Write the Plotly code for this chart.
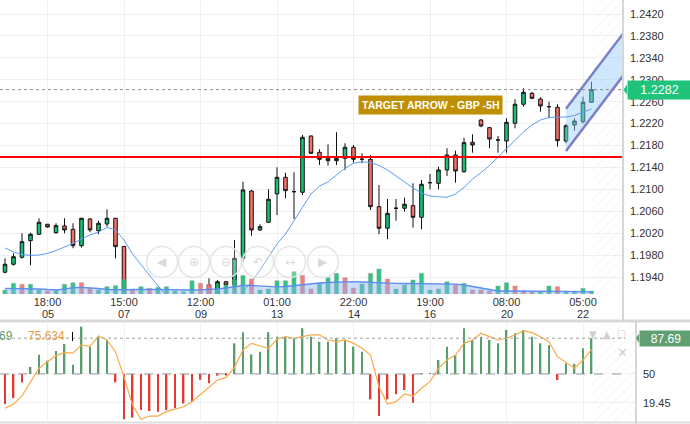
import plotly.graph_objects as go

# ---------------- data ----------------
idx = list(range(70))
opens = [1.19487, 1.19633, 1.19760, 1.20063, 1.20180, 1.20363, 1.20209, 1.20332, 1.20271, 1.19972,
         1.20459, 1.20246, 1.20368, 1.20472, 1.19957, 1.18653, 1.18507, 1.18616, 1.18543, 1.18653,
         1.18580, 1.18726, 1.18835, 1.18981, 1.19255, 1.18981, 1.19315, 1.19255, 1.19742, 1.20970,
         1.20259, 1.20399, 1.20916, 1.21220, 1.20958, 1.20947, 1.21974, 1.21676, 1.21567, 1.21523,
         1.21567, 1.21768, 1.21549, 1.21549, 1.20684, 1.20290, 1.20655, 1.20655, 1.20702, 1.20490,
         1.21122, 1.21111, 1.21354, 1.21627, 1.21322, 1.21859, 1.22266, 1.22126, 1.21901, 1.21883,
         1.22206, 1.22553, 1.22753, 1.22649, 1.22509, 1.22498, 1.21883, 1.22175, 1.22235, 1.22589]
highs = [1.19742, 1.19833, 1.20198, 1.20209, 1.20472, 1.20368, 1.20381, 1.20472, 1.20381, 1.20478,
         1.20472, 1.20428, 1.20636, 1.20478, 1.19967, 1.18762, 1.18726, 1.18708, 1.18762, 1.18799,
         1.18835, 1.18926, 1.19018, 1.19054, 1.19377, 1.19346, 1.19328, 1.20076, 1.21140, 1.20989,
         1.20363, 1.21001, 1.21403, 1.21304, 1.21312, 1.21992, 1.21983, 1.21731, 1.21822, 1.22042,
         1.21841, 1.21810, 1.21658, 1.21627, 1.21080, 1.20824, 1.20824, 1.20848, 1.21111, 1.21171,
         1.21281, 1.21414, 1.21750, 1.21706, 1.21943, 1.22005, 1.22284, 1.22138, 1.21974, 1.22297,
         1.22644, 1.22845, 1.22777, 1.22680, 1.22600, 1.22553, 1.22193, 1.22297, 1.22691, 1.22965]
lows = [1.19468, 1.19607, 1.19735, 1.19614, 1.20167, 1.20304, 1.20191, 1.20198, 1.19925, 1.19936,
        1.20217, 1.20180, 1.20319, 1.19742, 1.18525, 1.18434, 1.18397, 1.18434, 1.18470, 1.18470,
        1.18507, 1.18653, 1.18762, 1.18835, 1.18872, 1.18926, 1.19109, 1.19164, 1.19680, 1.20155,
        1.20240, 1.20386, 1.20532, 1.20837, 1.20459, 1.20897, 1.21646, 1.21445, 1.21432, 1.21445,
        1.21354, 1.21487, 1.21476, 1.20624, 1.20180, 1.20089, 1.20428, 1.20593, 1.20300, 1.20271,
        1.21001, 1.21001, 1.21244, 1.21122, 1.21304, 1.21669, 1.22133, 1.21750, 1.21669, 1.21669,
        1.22115, 1.22509, 1.22644, 1.22418, 1.22297, 1.21779, 1.21841, 1.22071, 1.22206, 1.22585]
closes = [1.19633, 1.19771, 1.20045, 1.20180, 1.20399, 1.20313, 1.20337, 1.20259, 1.19972, 1.20472,
          1.20259, 1.20381, 1.20472, 1.19954, 1.18653, 1.18507, 1.18616, 1.18543, 1.18653, 1.18580,
          1.18726, 1.18835, 1.18981, 1.18945, 1.18981, 1.19315, 1.19255, 1.19742, 1.20989, 1.20259,
          1.20319, 1.20819, 1.21220, 1.20976, 1.20958, 1.21950, 1.21658, 1.21549, 1.21523, 1.21567,
          1.21768, 1.21549, 1.21549, 1.20684, 1.20290, 1.20563, 1.20655, 1.20728, 1.20490, 1.21093,
          1.21122, 1.21354, 1.21627, 1.21335, 1.21852, 1.21810, 1.22157, 1.21919, 1.21901, 1.22224,
          1.22553, 1.22772, 1.22662, 1.22522, 1.22509, 1.21888, 1.22162, 1.22248, 1.22589, 1.2282]
ema = [1.19930, 1.19857, 1.19811, 1.19793, 1.19802, 1.19830, 1.19884, 1.19948, 1.20012, 1.20094,
       1.20167, 1.20222, 1.20304, 1.20259, 1.20076, 1.19821, 1.19620, 1.19419, 1.19237, 1.19054,
       1.18890, 1.18762, 1.18653, 1.18598, 1.18598, 1.18671, 1.18799, 1.18963, 1.19127, 1.19310,
       1.19529, 1.19766, 1.20003, 1.20185, 1.20423, 1.20678, 1.20916, 1.21061, 1.21135, 1.21262,
       1.21385, 1.21476, 1.21505, 1.21487, 1.21436, 1.21354, 1.21244, 1.21125, 1.21025, 1.20934,
       1.20879, 1.20866, 1.20855, 1.20916, 1.21034, 1.21189, 1.21304, 1.21436, 1.21591, 1.21746,
       1.21901, 1.22047, 1.22175, 1.22266, 1.22312, 1.22312, 1.22321, 1.22348, 1.22403, 1.22467]
volume = [400, 1070, 970, 970, 400, 300, 400, 970, 1130, 1130,
          570, 400, 730, 830, 1450, 400, 730, 570, 670, 730,
          300, 230, 1330, 1070, 970, 500, 900, 1400, 1850, 1500,
          400, 500, 1330, 1330, 2230, 1870, 500, 1070, 1630, 2070,
          1630, 600, 1000, 2070, 2500, 1500, 500, 900, 1400, 2070,
          400, 500, 1230, 900, 1070, 400, 400, 300, 800, 1130,
          800, 330, 200, 230, 800, 730, 300, 300, 570, 300]
volume_dir = ("ggrggrgggr" "rggggrgrgg" "gggrrggggr" "gggggrrggg"
              "rrgggrgggg" "gggrgrrrgg" "rrrggrgggg")
volume_ma = [570, 570, 550, 530, 500, 450, 420, 500, 630, 670,
             630, 550, 450, 420, 420, 450, 470, 470, 450, 430,
             400, 400, 400, 420, 450, 500, 600, 700, 850, 850,
             800, 750, 720, 750, 850, 950, 1070, 1100, 1150, 1200,
             1230, 1230, 1200, 1150, 1100, 1080, 1060, 1050, 1050, 1030,
             1000, 1000, 1000, 980, 900, 750, 550, 400, 300, 300,
             300, 300, 280, 280, 270, 260, 250, 250, 230, 220]
osc_hist = [18.4, 24.7, 41.0, 57.4, 70.3, 64.0, 74.2, 81.6, 59.8, 99.8,
            78.8, 89.3, 85.8, 41.2, 2.3, 4.0, 12.0, 11.0, 10.3, 12.0,
            13.8, 19.0, 20.8, 43.9, 40.2, 48.2, 48.5, 82.3, 94.0, 70.7,
            73.5, 94.0, 89.3, 89.3, 87.6, 98.2, 89.3, 84.0, 84.0, 87.6,
            85.8, 78.8, 73.5, 23.3, 5.7, 23.3, 28.6, 33.1, 19.8, 50.5,
            51.0, 64.7, 78.8, 70.0, 98.2, 85.8, 89.3, 85.8, 82.3, 96.4,
            92.9, 96.4, 89.3, 82.3, 80.5, 43.7, 61.2, 60.7, 77.0, 87.69]
osc_signal = [14.0, 18.4, 27.0, 42.0, 56.0, 63.0, 69.3, 72.5, 72.0, 80.6,
              79.0, 90.0, 85.8, 73.5, 47.0, 17.3, 2.3, 5.7, 5.7, 10.3,
              12.8, 15.5, 20.8, 28.6, 36.0, 43.7, 46.1, 57.0, 75.3, 82.3,
              79.5, 77.0, 86.6, 89.3, 87.6, 89.3, 91.1, 91.1, 85.8, 84.0,
              85.8, 82.3, 77.0, 70.0, 36.6, 18.4, 20.8, 28.9, 26.8, 34.9,
              41.9, 56.0, 64.7, 70.0, 82.3, 85.8, 92.9, 89.3, 85.8, 87.6,
              91.1, 95.6, 93.6, 89.3, 84.0, 68.2, 61.9, 56.0, 64.7, 75.634]
osc_mid = 50
osc_ticks = [50, 19.45]

tick_idx = [5, 14, 23, 32, 41, 50, 59, 68]
tick_time = ["18:00", "15:00", "12:00", "01:00", "22:00", "19:00", "08:00", "05:00"]
tick_day = ["05", "07", "09", "13", "14", "16", "20", "22"]
price_ticks = [1.1940, 1.1980, 1.2020, 1.2060, 1.2100, 1.2140, 1.2180,
               1.2220, 1.2260, 1.2300, 1.2340, 1.2380, 1.2420]
support_level = 1.2159
channel_x = [66, 74]
channel_upper = [1.2247, 1.24106]
channel_lower = [1.2170, 1.23336]
future_from = 69.2
target_text = "TARGET ARROW - GBP -5H"
target_x, target_y = 50, 1.2254

# ---------------- layout helpers ----------------
W, H = 690, 424
def xp(px): return px / W
def yp(py): return 1 - py / H

FONT = "Liberation Sans, Arial, sans-serif"
GREEN = "#16c074"
RED = "#f4716b"

fig = go.Figure()

# hatched "future" zone
hatch = dict(shape="/", fgcolor="#e3e3e3", bgcolor="rgba(255,255,255,0)", size=7, solidity=0.12, fillmode="overlay")
fig.add_trace(go.Bar(x=[future_from + 2.5], y=[0.2], base=[1.15], width=[5], xaxis="x", yaxis="y",
                     marker=dict(color="rgba(255,255,255,0)", line=dict(width=0), pattern=hatch),
                     hoverinfo="skip", showlegend=False))
fig.add_trace(go.Bar(x=[future_from + 3], y=[120], base=[-10], width=[6], xaxis="x2", yaxis="y2",
                     marker=dict(color="rgba(255,255,255,0)", line=dict(width=0), pattern=hatch),
                     hoverinfo="skip", showlegend=False))

# channel
fig.add_trace(go.Scatter(x=[channel_x[0], channel_x[1], channel_x[1], channel_x[0]],
                         y=[channel_upper[0], channel_upper[1], channel_lower[1], channel_lower[0]],
                         fill="toself", fillcolor="rgba(150,205,250,0.45)", mode="lines",
                         line=dict(width=0), xaxis="x", yaxis="y", hoverinfo="skip", showlegend=False))
for ys in (channel_upper, channel_lower):
    fig.add_trace(go.Scatter(x=channel_x, y=ys, mode="lines", line=dict(color="#7b7fc6", width=2.5),
                             xaxis="x", yaxis="y", hoverinfo="skip", showlegend=False))

# candles
fig.add_trace(go.Candlestick(x=idx, open=opens, high=highs, low=lows, close=closes,
                             xaxis="x", yaxis="y", whiskerwidth=0,
                             increasing=dict(line=dict(color="#111111", width=1), fillcolor=GREEN),
                             decreasing=dict(line=dict(color="#111111", width=1), fillcolor=RED),
                             showlegend=False, hoverinfo="skip"))
# EMA
fig.add_trace(go.Scatter(x=idx, y=ema, mode="lines", line=dict(color="#5b9cf2", width=1),
                         xaxis="x", yaxis="y", hoverinfo="skip", showlegend=False))

# volume (overlay axis)
fig.add_trace(go.Scatter(x=idx, y=volume_ma, mode="lines", fill="tozeroy",
                         fillcolor="rgba(140,180,240,0.45)", line=dict(color="#5b8ef0", width=1.3),
                         xaxis="x", yaxis="y3", hoverinfo="skip", showlegend=False))
fig.add_trace(go.Bar(x=idx, y=volume, width=0.5, xaxis="x", yaxis="y3",
                     marker=dict(color=[GREEN if d == "g" else RED for d in volume_dir],
                                 opacity=0.9, line=dict(color="rgba(150,150,150,0.45)", width=1)),
                     hoverinfo="skip", showlegend=False))

# oscillator panel
fig.add_trace(go.Bar(x=idx, y=[v - osc_mid for v in osc_hist], base=osc_mid, width=0.2,
                     xaxis="x2", yaxis="y2",
                     marker=dict(color=["#5a9e6e" if v >= osc_mid else "#e53935" for v in osc_hist],
                                 line=dict(width=0)),
                     hoverinfo="skip", showlegend=False))
fig.add_trace(go.Scatter(x=idx, y=osc_signal, mode="lines", line=dict(color="#f7ab48", width=1.2),
                         xaxis="x2", yaxis="y2", hoverinfo="skip", showlegend=False))

main_top, main_bot = 0, 294
low_top, low_bot = 323, 421

fig.update_layout(
    width=W, height=H, margin=dict(l=0, r=0, t=0, b=0),
    paper_bgcolor="white", plot_bgcolor="white", showlegend=False,
    font=dict(family=FONT, size=11, color="#333333"),
    boxgap=0.4, barmode="overlay",
    xaxis=dict(domain=[0, xp(622)], range=[(0 - 5) / 8.5, (622 - 5) / 8.5],
               tickvals=tick_idx, ticktext=tick_time, showgrid=True, gridcolor="#efefef",
               zeroline=False, showline=False, ticks="", rangeslider=dict(visible=False),
               tickfont=dict(size=11, color="#333"), ticklabelstandoff=0, anchor="y", fixedrange=True),
    yaxis=dict(domain=[yp(main_bot), yp(main_top)], range=[1.19090, 1.24456], side="right",
               tickvals=price_ticks, ticktext=[f"{v:.4f}" for v in price_ticks],
               showgrid=True, gridcolor="#efefef", zeroline=False, showline=False, ticks="",
               ticklabelstandoff=7, tickfont=dict(size=11, color="#333"), anchor="x"),
    yaxis3=dict(overlaying="y", range=[0, 29400], visible=False, anchor="x"),
    xaxis2=dict(domain=[0, xp(635)], range=[(0 - 5) / 8.5, (635 - 5) / 8.5],
                tickvals=tick_idx, showticklabels=False, showgrid=True, gridcolor="#f0f0f0",
                zeroline=False, ticks="", anchor="y2"),
    yaxis2=dict(domain=[yp(low_bot), yp(low_top)], range=[0.47, 103.7], side="right",
                tickvals=osc_ticks, ticktext=["50", "19.45"], showgrid=True, gridcolor="#f0f0f0",
                zeroline=False, ticks="", ticklabelstandoff=7,
                tickfont=dict(size=11, color="#333"), anchor="x2"),
)

shapes = []
# support line and current price line
shapes.append(dict(type="line", xref="x domain", yref="y", x0=0, x1=1, y0=support_level, y1=support_level,
                   line=dict(color="#ff0000", width=2)))
shapes.append(dict(type="line", xref="x domain", yref="y", x0=0, x1=1, y0=closes[-1], y1=closes[-1],
                   line=dict(color="#8c8c8c", width=1, dash="dot")))
# oscillator reference lines
shapes.append(dict(type="line", xref="x2 domain", yref="y2", x0=0, x1=0.985, y0=osc_mid, y1=osc_mid,
                   line=dict(color="#9a9a9a", width=1, dash="dash")))
shapes.append(dict(type="line", xref="x2 domain", yref="y2", x0=0, x1=0.985, y0=osc_hist[-1], y1=osc_hist[-1],
                   line=dict(color="#a0a0a0", width=1, dash="dot")))
# panel borders
shapes.append(dict(type="line", xref="paper", yref="paper", x0=0, x1=1, y0=yp(321), y1=yp(321),
                   line=dict(color="#d9d9d9", width=3)))
shapes.append(dict(type="line", xref="paper", yref="paper", x0=0, x1=1, y0=yp(422.5), y1=yp(422.5),
                   line=dict(color="#dedede", width=2)))
shapes.append(dict(type="line", xref="paper", yref="paper", x0=xp(623), x1=xp(623), y0=yp(0), y1=yp(321),
                   line=dict(color="#d6d6d6", width=2)))
shapes.append(dict(type="line", xref="paper", yref="paper", x0=xp(636), x1=xp(636), y0=yp(321), y1=yp(424),
                   line=dict(color="#d6d6d6", width=2)))
# navigation buttons
nav_x = [162, 194, 226, 258, 290, 323]
for cx in nav_x:
    shapes.append(dict(type="circle", xref="paper", yref="paper", x0=xp(cx - 15.5), x1=xp(cx + 15.5),
                       y0=yp(262 + 15.5), y1=yp(262 - 15.5), line=dict(color="#e4e4e4", width=1.5),
                       fillcolor="rgba(255,255,255,0.25)", layer="above"))
# price label arrows
d = 0.00095
shapes.append(dict(type="path", xref="paper", yref="y",
                   path=f"M {xp(627)},{closes[-1] + d} L {xp(623.5)},{closes[-1]} L {xp(627)},{closes[-1] - d} Z",
                   fillcolor="#1fc47a", line=dict(width=0), layer="above"))
shapes.append(dict(type="path", xref="paper", yref="y2",
                   path=f"M {xp(639)},{osc_hist[-1] + 5} L {xp(636)},{osc_hist[-1]} L {xp(639)},{osc_hist[-1] - 5} Z",
                   fillcolor="#5f9f73", line=dict(width=0), layer="above"))
# text cursor in oscillator header
shapes.append(dict(type="line", xref="paper", yref="paper", x0=xp(72.5), x1=xp(72.5), y0=yp(332), y1=yp(341),
                   line=dict(color="#000", width=1)))
fig.update_layout(shapes=shapes)

ann = []
for t, dlab in zip(tick_idx, tick_day):
    ann.append(dict(x=t, y=yp(314), xref="x", yref="paper", text=dlab, showarrow=False,
                    font=dict(size=11, color="#333"), xanchor="center", yanchor="middle"))
ann.append(dict(x=target_x, y=target_y, xref="x", yref="y", text=f"<b>{target_text}</b>", showarrow=False,
                font=dict(size=10.5, color="white", family=FONT), bgcolor="#c08f00", borderpad=3,
                xanchor="center", yanchor="middle"))
ann.append(dict(x=xp(627), y=closes[-1], xref="paper", yref="y", text=f"{closes[-1]:.4f}", showarrow=False,
                font=dict(size=12.5, color="white"), bgcolor="#1fc47a", width=59, height=14, borderpad=2,
                xanchor="left", yanchor="middle", align="center"))
ann.append(dict(x=xp(639), y=osc_hist[-1], xref="paper", yref="y2", text=f"{osc_hist[-1]:.2f}", showarrow=False,
                font=dict(size=12, color="white"), bgcolor="#5f9f73", width=48, height=11, borderpad=2,
                xanchor="left", yanchor="middle", align="center"))
ann.append(dict(x=0, y=yp(336), xref="paper", yref="paper", text=f"{osc_hist[-1]:.2f}"[-2:], showarrow=False,
                font=dict(size=12, color="#5f9f73"), xanchor="left", yanchor="middle", xshift=-3))
ann.append(dict(x=xp(26), y=yp(336), xref="paper", yref="paper", text=f"{osc_signal[-1]:.3f}", showarrow=False,
                font=dict(size=12, color="#e0a040"), xanchor="left", yanchor="middle"))
for gx, g in zip([593, 607, 621], ["▼", "▲", "☐"]):
    ann.append(dict(x=xp(gx), y=yp(334), xref="paper", yref="paper", text=g, showarrow=False,
                    font=dict(size=10, color="#cfcfcf", family="DejaVu Sans"), xanchor="center", yanchor="middle"))
ann.append(dict(x=xp(622), y=yp(352), xref="paper", yref="paper", text="✕", showarrow=False,
                font=dict(size=13, color="#d0d0d0", family="DejaVu Sans"), xanchor="center", yanchor="middle"))
for cx, g in zip(nav_x, ["◀", "⊕", "⊖", "↶", "↔", "▶"]):
    ann.append(dict(x=xp(cx), y=yp(262), xref="paper", yref="paper", text=g, showarrow=False,
                    font=dict(size=12, color="#dadada", family="DejaVu Sans"), xanchor="center", yanchor="middle"))
fig.update_layout(annotations=ann)

fig.write_html("out.html", config={"displayModeBar": False},
               post_script="document.body.style.margin='0';document.body.style.overflow='hidden';")
